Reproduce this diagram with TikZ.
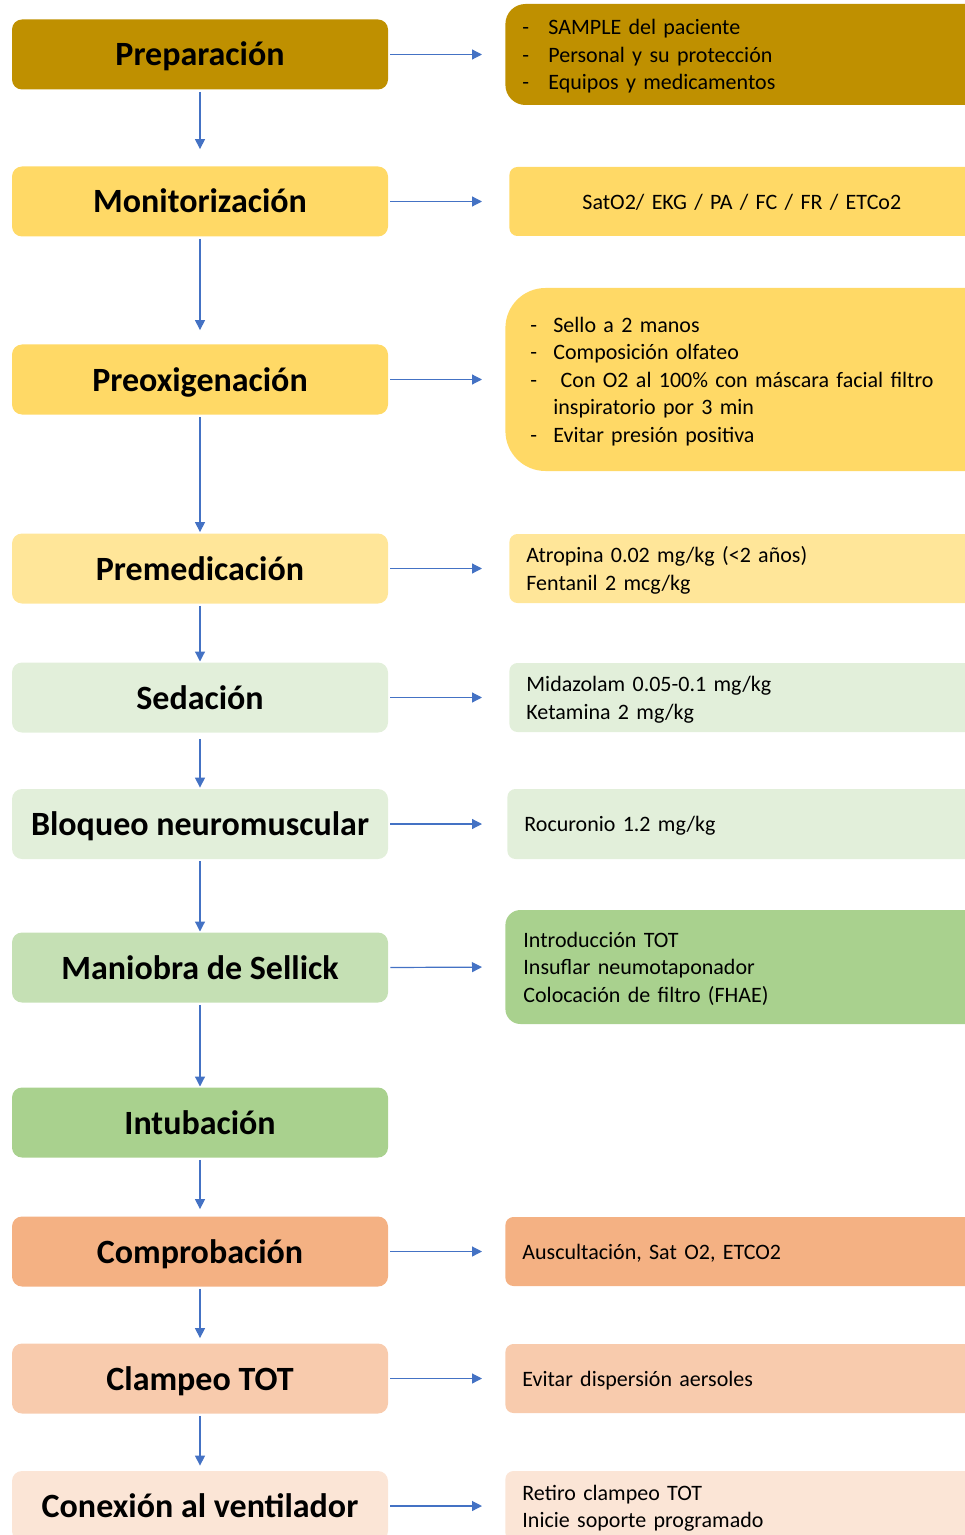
\documentclass[tikz,border=0pt]{standalone}
\usepackage{fontspec}
\setmainfont{Carlito}
\usepackage{xcolor}
\usetikzlibrary{arrows.meta}

\definecolor{oro}{HTML}{BF9000}
\definecolor{amarillo}{HTML}{FFD966}
\definecolor{amarilloclaro}{HTML}{FFE699}
\definecolor{verdeclaro}{HTML}{E2EFDA}
\definecolor{verdemedio}{HTML}{C5E0B4}
\definecolor{verde}{HTML}{A9D18E}
\definecolor{naranja}{HTML}{F4B183}
\definecolor{naranjaclaro}{HTML}{F8CBAD}
\definecolor{naranjapalido}{HTML}{FBE5D6}
\definecolor{azulflecha}{HTML}{4472C4}

\newcommand{\guion}[1][11.5pt]{\makebox[#1][l]{-}}
\newcommand{\puntal}{\rule[-2.9pt]{0pt}{13.7pt}}

\tikzset{
  paso/.style={rectangle, rounded corners=5pt, minimum width=188pt,
    minimum height=35pt, inner sep=0pt, text height=14.5pt, text depth=3pt,
    font=\fontsize{17}{20}\selectfont\bfseries},
  detalle/.style={rectangle, rounded corners=4pt, anchor=west, align=left,
    text width=230pt, inner xsep=8.5pt, inner ysep=0pt,
    font=\fontsize{11}{13.75}\selectfont},
  flecha/.style={azulflecha, line width=0.6pt, -{Triangle[length=5pt,width=5pt]}},
  >=latex
}

\begin{document}
\begin{tikzpicture}[x=0.5pt, y=-0.5pt]
\useasboundingbox (0,0) rectangle (964,1535);

% pasos
\node[paso, fill=oro] (prep) at (200,54.5) {Preparación};
\node[paso, fill=amarillo] (moni) at (200,201.5) {Monitorización};
\node[paso, fill=amarillo] (preox) at (200,379.5) {Preoxigenación};
\node[paso, fill=amarilloclaro] (premed) at (200,568.5) {Premedicación};
\node[paso, fill=verdeclaro] (seda) at (200,697.5) {Sedación};
\node[paso, fill=verdeclaro] (bloq) at (200,824) {Bloqueo neuromuscular};
\node[paso, fill=verdemedio] (sell) at (200,967.5) {Maniobra de Sellick};
\node[paso, fill=verde] (intub) at (200,1122.5) {Intubación};
\node[paso, fill=naranja] (comp) at (200,1251.5) {Comprobación};
\node[paso, fill=naranjaclaro] (clamp) at (200,1378.5) {Clampeo TOT};
\node[paso, fill=naranjapalido] (vent) at (200,1506) {Conexión al ventilador};

% detalles
\node[detalle, fill=oro, rounded corners=10pt, minimum height=50.5pt] (prepR) at (505,54.5)
  {\puntal\guion[13pt]SAMPLE del paciente\\ \guion[13pt]Personal y su protección\\ \guion[13pt]Equipos y medicamentos\puntal};
\node[detalle, fill=amarillo, minimum height=34.5pt] (moniR) at (509,201.5)
  {\puntal\hspace*{28pt}SatO2/ EKG / PA / FC / FR / ETCo2\puntal};
\node[detalle, fill=amarillo, rounded corners=20pt, inner xsep=12.5pt, minimum height=91.5pt] (preoxR) at (505,379.5)
  {\puntal\guion Sello a 2 manos\\ \guion Composición olfateo\\ \guion\ Con O2 al 100\% con máscara facial filtro\\
   \hspace*{11.5pt}inspiratorio por 3 min\\ \guion Evitar presión positiva\puntal};
\node[detalle, fill=amarilloclaro, minimum height=34.5pt] (premedR) at (509,568.5)
  {\puntal Atropina 0.02 mg/kg (<2 años)\\ Fentanil 2 mcg/kg\puntal};
\node[detalle, fill=verdeclaro, minimum height=34.5pt] (sedaR) at (509,697.5)
  {\puntal Midazolam 0.05-0.1 mg/kg\\ Ketamina 2 mg/kg\puntal};
\node[detalle, fill=verdeclaro, minimum height=35pt] (bloqR) at (507,824)
  {\puntal Rocuronio 1.2 mg/kg\puntal};
\node[detalle, fill=verde, rounded corners=7.5pt, inner xsep=9pt, minimum height=57pt] (sellR) at (505,967)
  {\puntal Introducción TOT\\ Insuflar neumotaponador\\ Colocación de filtro (FHAE)\puntal};
\node[detalle, fill=naranja, minimum height=34.5pt] (compR) at (505,1251.5)
  {\puntal Auscultación, Sat O2, ETCO2\puntal};
\node[detalle, fill=naranjaclaro, minimum height=34.5pt] (clampR) at (505,1378.5)
  {\puntal Evitar dispersión aersoles\puntal};
\node[detalle, fill=naranjapalido, minimum height=35pt] (ventR) at (505,1506)
  {\puntal Retiro clampeo TOT\\ Inicie soporte programado\puntal};

% flechas verticales
\foreach \a/\b/\ini/\fin in {prep/moni/1/8.5, moni/preox/1/7, preox/premed/1/0.5,
    premed/seda/1/0.3, seda/bloq/3/0.5, bloq/sell/1/0.3, sell/intub/1/0.3,
    intub/comp/1/3.5, comp/clamp/1/2.5, clamp/vent/1/2.5}
  \draw[flecha, shorten <=\ini pt, shorten >=\fin pt] (\a.south) -- (\b.north);

% flechas horizontales
\foreach \a/\s in {prep/11.5, moni/13.5, preox/11.5, premed/13.5, seda/13.5,
    bloq/12.5, sell/11.5, comp/11.5, clamp/11.5, vent/11.5}
  \draw[flecha, shorten <=1pt, shorten >=\s pt] (\a.east) -- (\a R.west);
\end{tikzpicture}
\end{document}
